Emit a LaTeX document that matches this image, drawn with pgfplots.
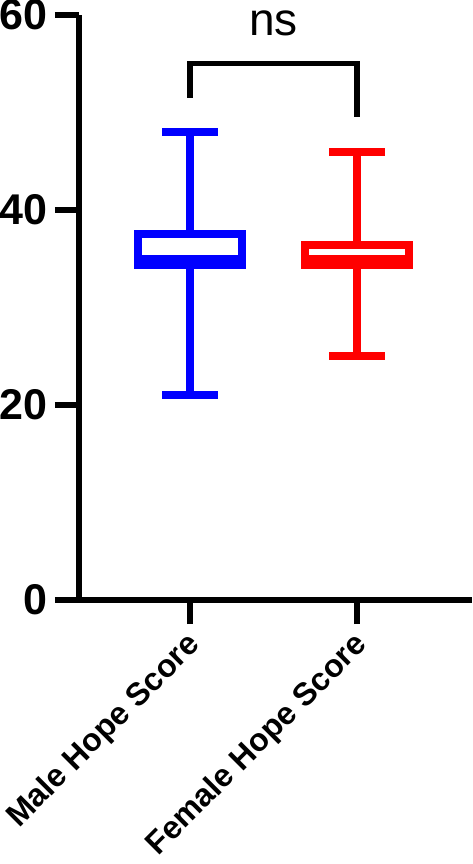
\documentclass[border=0pt]{standalone}
\usepackage{fontspec}
\setmainfont{Liberation Sans}
\usepackage{pgfplots}
\pgfplotsset{compat=1.18}
\begin{document}
\begin{tikzpicture}
\begin{axis}[
 at={(0,0)}, anchor=south west,
 scale only axis, width=393pt, height=585pt,
 xmin=-0.665, xmax=1.689, ymin=0, ymax=60,
 axis x line=bottom, axis y line=left,
 axis line style={-, line width=6pt, black},
 xtick={0,1}, xticklabels={Male Hope Score, Female Hope Score},
 ytick={0,20,40,60},
 tick align=outside, major tick length=24pt,
 tick style={line width=6pt, black},
 /pgf/number format/assume math mode=true,
 yticklabel style={font=\bfseries\fontsize{43}{43}\selectfont, xshift=-4pt},
 xticklabel style={font=\bfseries\fontsize{32}{32}\selectfont, xshift=8pt, yshift=-14pt, rotate=45, anchor=east},
 clip=false,
 unbounded coords=jump,
]
% Male box
\addplot[blue, line width=8pt, line join=miter, mark=none] coordinates {(0,34.4) (0.31,34.4) (0.31,37.5) (-0.31,37.5) (-0.31,34.4) (0,34.4)};
\addplot[blue, line width=8pt, mark=none] coordinates {(-0.31,35) (0.31,35) (nan,nan) (0,37.5) (0,48) (nan,nan) (-0.1675,48) (0.1675,48) (nan,nan) (0,34.4) (0,21) (nan,nan) (-0.1675,21) (0.1675,21)};
% Female box
\addplot[red, line width=8pt, line join=miter, mark=none] coordinates {(1,34.4) (1.31,34.4) (1.31,36.4) (0.69,36.4) (0.69,34.4) (1,34.4)};
\addplot[red, line width=8pt, mark=none] coordinates {(0.69,35) (1.31,35) (nan,nan) (1,36.4) (1,46) (nan,nan) (0.8325,46) (1.1675,46) (nan,nan) (1,34.4) (1,25) (nan,nan) (0.8325,25) (1.1675,25)};
% significance bracket
\addplot[black, line width=5.5pt, mark=none] coordinates {(0,51.5) (0,55) (1,55) (1,49.5)};
\node[font=\fontsize{46}{46}\selectfont, anchor=base] at (axis cs:0.5,57.9) {ns};
\end{axis}
\pgfresetboundingbox
\path (-79pt,-264pt) rectangle (393pt,600pt);
\end{tikzpicture}
\end{document}
